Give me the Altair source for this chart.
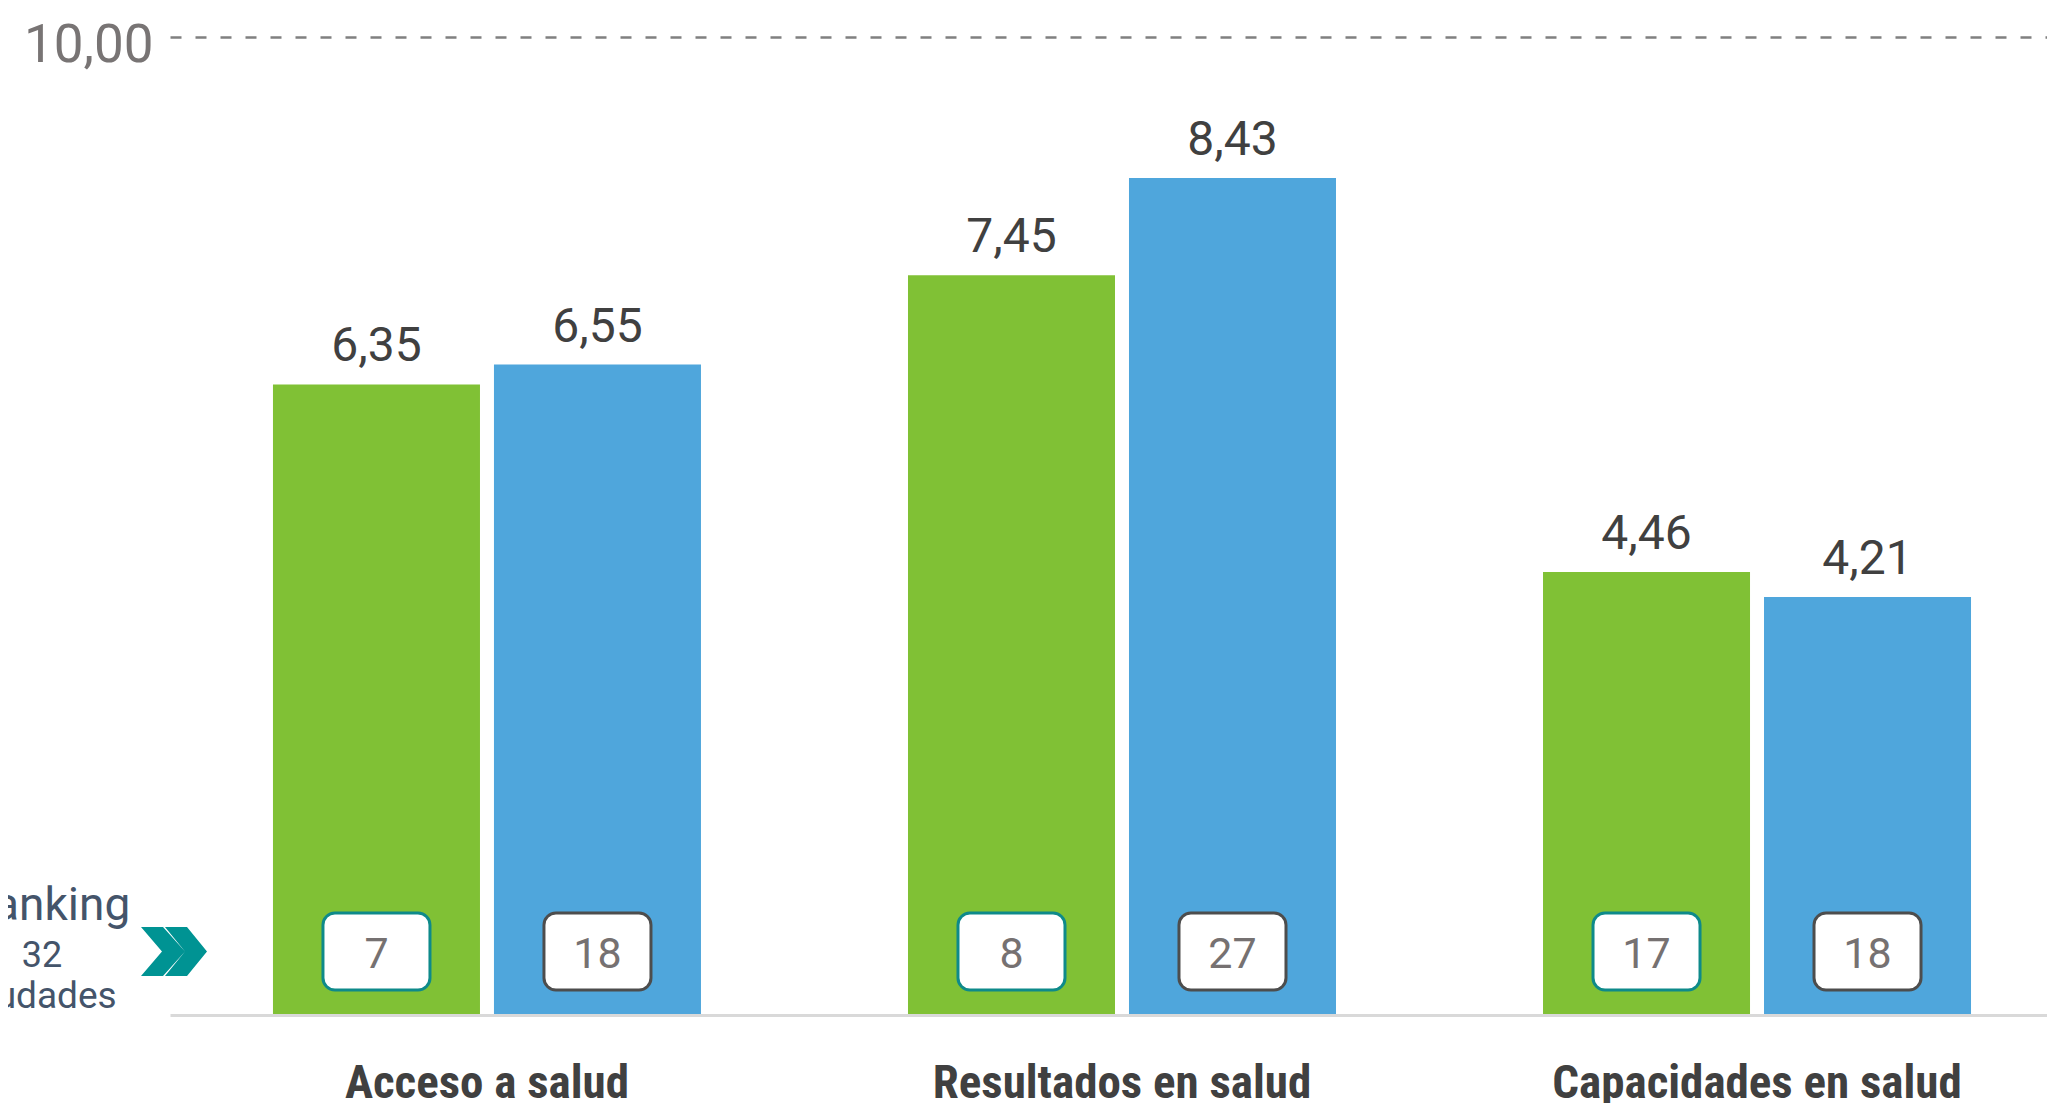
import altair as alt
import pandas as pd

# ---- data ----
categorias = ["Acceso a salud", "Resultados en salud", "Capacidades en salud"]
series = ["Serie A", "Serie B"]
valores_a = [6.35, 7.45, 4.46]
valores_b = [6.55, 8.43, 4.21]
ranking_a = [7, 8, 17]
ranking_b = [18, 27, 18]
total_ciudades = 32
ranking_lineas = ["Ranking", str(total_ciudades), "ciudades"]

# ---- styles ----
colores = ["#80C135", "#4FA6DC"]
bordes = ["#0E8A8A", "#4D4D4D"]
cond_font = "Liberation Sans Narrow, Roboto Condensed, Arial Narrow, DejaVu Sans Condensed, sans-serif"

rows = []
for i, c in enumerate(categorias):
    rows.append({"categoria": c, "serie": series[0], "valor": valores_a[i], "ranking": ranking_a[i]})
    rows.append({"categoria": c, "serie": series[1], "valor": valores_b[i], "ranking": ranking_b[i]})
df = pd.DataFrame(rows)

x_scale = alt.Scale(paddingInner=0.326, paddingOuter=0.1409, align=0.5754)
xo = alt.XOffset("serie:N", sort=series, scale=alt.Scale(paddingInner=0.0633, paddingOuter=0))
y_scale = alt.Scale(domain=[0, 10], nice=False)

x_axis = alt.Axis(
    labelFont=cond_font, labelFontWeight="bold", labelFontSize=47, labelColor="#404040",
    labelPadding=82, labelBaseline="alphabetic", labelAngle=0, labelLimit=0,
    ticks=False, tickSize=0, domainColor="#D9D9D9", domainWidth=3, title=None, zindex=1,
)
y_axis = alt.Axis(
    values=[10], grid=True, gridDash=[11, 14], gridColor="#808080", gridWidth=2.5,
    domain=False, ticks=False, tickSize=0, labelFont="Roboto", labelFontSize=53,
    labelColor="#787474", labelPadding=17, tickOffset=15, labelOffset=8,
    labelBaseline="middle",
    labelExpr="replace(format(datum.value, '.2f'), '.', ',')", title=None,
)

x_enc = alt.X("categoria:N", sort=categorias, scale=x_scale, axis=x_axis, title=None)
y_enc = alt.Y("valor:Q", scale=y_scale, axis=y_axis, title=None)

base = alt.Chart(df)

bars = base.mark_bar().encode(
    x=x_enc, xOffset=xo, y=y_enc,
    color=alt.Color("serie:N", scale=alt.Scale(domain=series, range=colores), legend=None),
)

valores_txt = base.transform_calculate(
    etiqueta="replace(format(datum.valor, '.2f'), '.', ',')"
).mark_text(font="Roboto", fontSize=48, color="#404040", baseline="alphabetic", dy=-23).encode(
    x=x_enc, xOffset=xo, y=y_enc,
    text="etiqueta:N",
)

cajas = base.mark_bar(width=107, cornerRadius=12, fill="white", strokeWidth=3).encode(
    x=x_enc, xOffset=xo,
    y=alt.value(891), y2=alt.value(968),
    stroke=alt.Stroke("serie:N", scale=alt.Scale(domain=series, range=bordes), legend=None),
)

ranking_txt = base.mark_text(font="Roboto", fontSize=43, color="#767171", baseline="alphabetic").encode(
    x=x_enc, xOffset=xo,
    y=alt.value(946),
    text="ranking:N",
)

uno = pd.DataFrame({"k": [0]})
chevron_path = (
    "M-1,-0.742L-0.333,-0.742L0.333,0L-0.333,0.742L-1,0.742L-0.364,0Z"
    "M-0.273,-0.742L0.394,-0.742L1,0L0.394,0.742L-0.273,0.742L0.333,0Z"
)
chevron = alt.Chart(uno).mark_point(
    shape=chevron_path, size=4356, filled=True, color="#009393", opacity=1, strokeWidth=0
).encode(x=alt.value(4), y=alt.value(929.5))

t1 = alt.Chart(uno).mark_text(text=ranking_lineas[0], font="Roboto", fontSize=46, color="#44546A",
                              align="center", baseline="alphabetic").encode(x=alt.value(-122), y=alt.value(898))
t2 = alt.Chart(uno).mark_text(text=ranking_lineas[1], font="Roboto", fontSize=36, color="#44546A",
                              align="center", baseline="alphabetic").encode(x=alt.value(-128), y=alt.value(945))
t3 = alt.Chart(uno).mark_text(text=ranking_lineas[2], font="Roboto", fontSize=37, color="#44546A",
                              align="center", baseline="alphabetic").encode(x=alt.value(-128), y=alt.value(986))

chart = alt.layer(bars, valores_txt, cajas, ranking_txt, chevron, t1, t2, t3).properties(
    width=1877, height=993,
    autosize=alt.AutoSizeParams(type="none"),
    padding={"left": 162, "top": 14, "right": 0, "bottom": 88},
    background="white",
).configure_view(strokeWidth=0)

chart.save("out.html", embed_options={"renderer": "svg", "actions": False})
